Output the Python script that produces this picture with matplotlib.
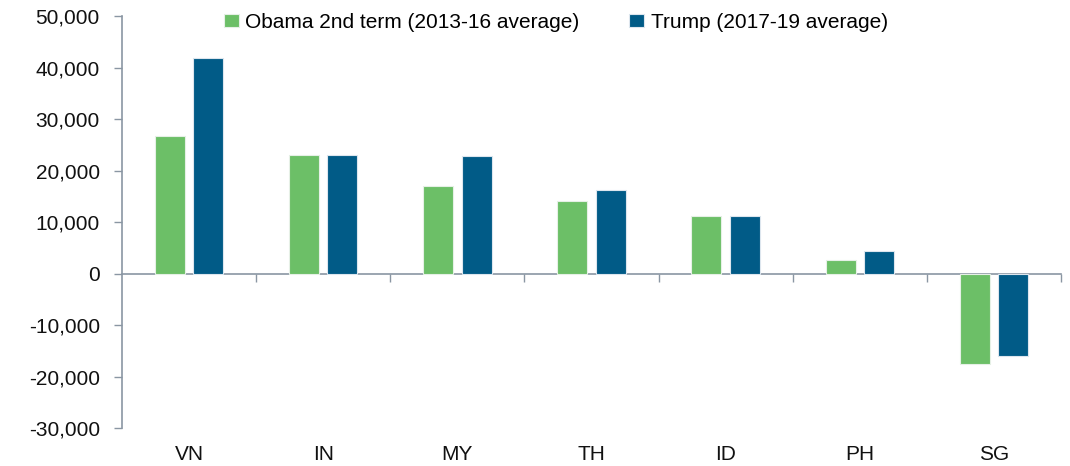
import matplotlib
matplotlib.use("Agg")
import matplotlib.pyplot as plt
import numpy as np
from matplotlib.ticker import FuncFormatter

categories = ["VN", "IN", "MY", "TH", "ID", "PH", "SG"]
obama = [26800, 23000, 17100, 14100, 11200, 2600, -17500]
trump = [41900, 23000, 22900, 16300, 11200, 4400, -15900]
series_names = ["Obama 2nd term (2013-16 average)", "Trump (2017-19 average)"]
yticks = list(range(-30000, 50001, 10000))

plt.rcParams['font.family'] = ['Liberation Sans', 'DejaVu Sans']
green = "#6CBF67"
blue = "#015B87"
axis_col = "#8A96A3"

fig = plt.figure(figsize=(10.7, 4.66), dpi=100)
ax = fig.add_axes([0.114, 0.0809, 0.8776, 0.8841])

x = np.arange(len(categories))
w = 0.224
off = 0.143
ax.bar(x - off, obama, width=w, color=green, edgecolor="#E6F0E6", linewidth=0.8, label=series_names[0], zorder=2)
ax.bar(x + off, trump, width=w, color=blue, edgecolor="#DDE6EE", linewidth=0.8, label=series_names[1], zorder=2)

ax.set_xlim(-0.5, len(categories) - 0.5)
ax.set_ylim(-30000, 50000)
ax.set_yticks(yticks)
ax.yaxis.set_major_formatter(FuncFormatter(lambda v, p: f"{int(v):,}"))
ax.tick_params(axis='y', direction='out', length=6, width=1, color=axis_col, labelsize=15, pad=10, labelcolor="#111111")

for s in ["top", "right", "bottom"]:
    ax.spines[s].set_visible(False)
ax.spines["left"].set_color(axis_col)
ax.spines["left"].set_linewidth(1.2)

# category labels at the bottom
ax.set_xticks(x)
ax.set_xticklabels(categories)
ax.tick_params(axis='x', length=0, labelsize=15, pad=12, labelcolor="#111111")

# zero axis with boundary ticks
zero_frac = (0 - (-30000)) / (50000 - (-30000))
sec = ax.secondary_xaxis(zero_frac)
sec.set_xticks(np.arange(0.5, len(categories), 1.0))
sec.set_xticklabels([])
sec.tick_params(axis='x', direction='out', length=6, width=1, color=axis_col)
sec.spines["bottom"].set_color(axis_col)
sec.spines["bottom"].set_linewidth(1.2)

leg = ax.legend(loc='center', bbox_to_anchor=(0.462, 0.986), ncol=2, frameon=False,
                fontsize=15, handlelength=0.72, handleheight=0.6, handletextpad=0.3,
                columnspacing=2.4, borderaxespad=0)

fig.savefig("out.png", dpi=100)
